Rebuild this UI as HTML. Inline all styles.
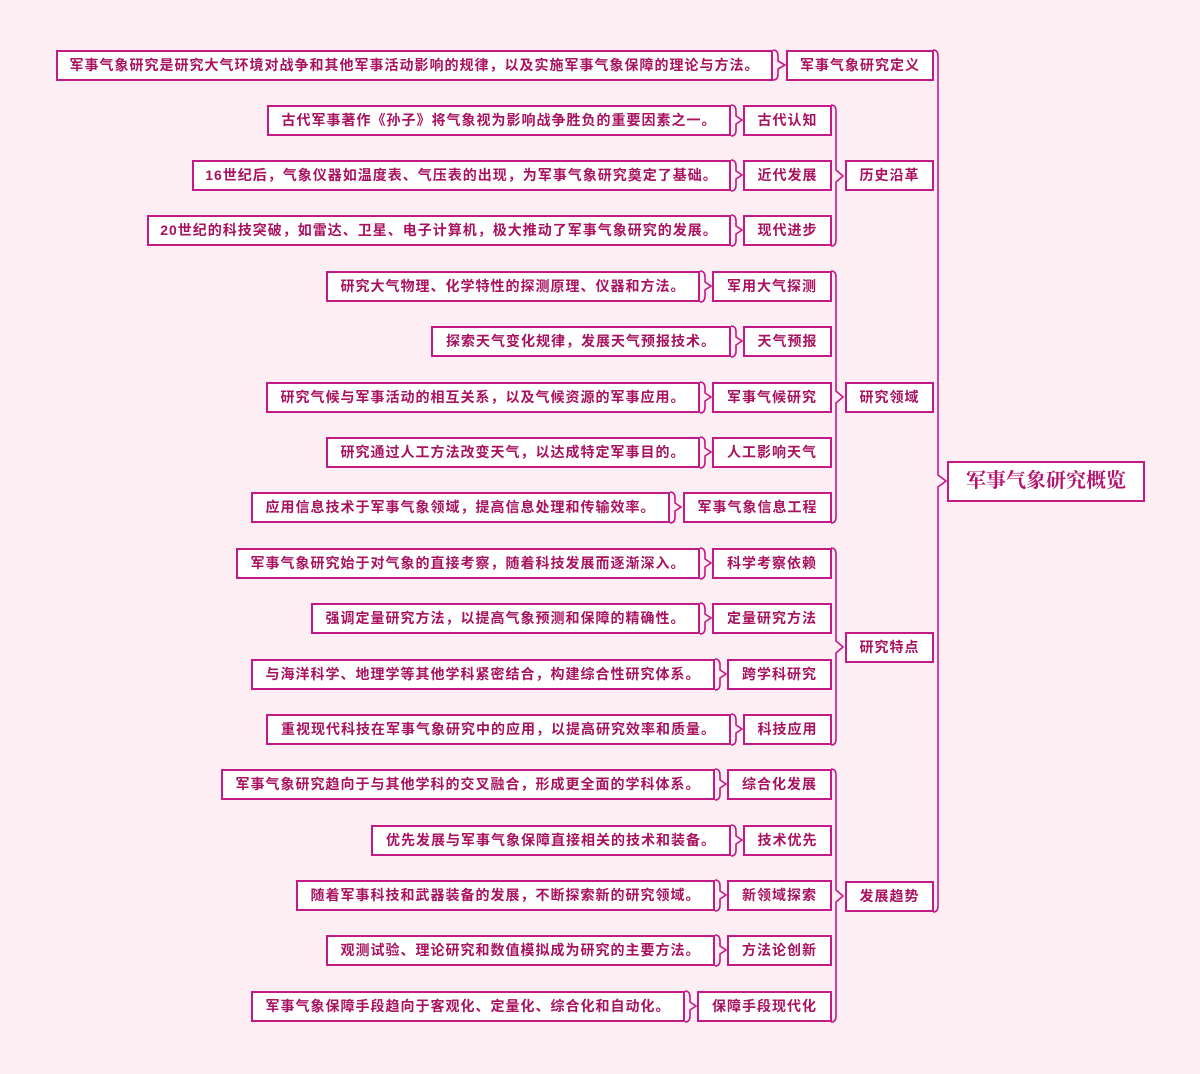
<!DOCTYPE html>
<html><head><meta charset="utf-8"><style>
body{margin:0;width:1200px;height:1074px;background:#fdeef4;position:relative;overflow:hidden;font-family:"Liberation Sans","Noto Sans CJK SC",sans-serif;}
.b{position:absolute;box-sizing:border-box;height:31px;background:#fff;border:2px solid #c21a86;color:#a8125f;font-size:14px;font-weight:bold;letter-spacing:1px;line-height:27px;text-align:center;white-space:nowrap;}
.r{position:absolute;left:947px;top:461px;width:198px;height:41px;box-sizing:border-box;background:#fff;border:2px solid #c21a86;color:#b3136b;font-family:"Liberation Serif","Noto Serif CJK SC",serif;font-size:20px;font-weight:bold;line-height:37px;text-align:center;}
svg{position:absolute;left:0;top:0}
</style></head><body>
<svg width="1200" height="1074" fill="none" stroke="#c21a86" stroke-width="1.6">
<path d="M933 50 Q938 50 938 56 L938 475 L946 481 L938 487 L938 906 Q938 912 933 912"/>
<path d="M831 105 Q836 105 836 111 L836 170 L843 176 L836 182 L836 240 Q836 246 831 246"/>
<path d="M831 271 Q836 271 836 277 L836 391 L843 397 L836 403 L836 517 Q836 523 831 523"/>
<path d="M831 548 Q836 548 836 554 L836 641 L843 647 L836 653 L836 739 Q836 745 831 745"/>
<path d="M831 769 Q836 769 836 775 L836 890 L843 896 L836 902 L836 1016 Q836 1022 831 1022"/>
<path d="M773 50 Q778 50 778 56 L778 61 L785 65 L778 69 L778 74 Q778 80 773 80"/>
<path d="M731 105 Q736 105 736 111 L736 116 L742 120 L736 124 L736 130 Q736 136 731 136"/>
<path d="M731 160 Q736 160 736 166 L736 171 L742 175 L736 179 L736 185 Q736 191 731 191"/>
<path d="M731 215 Q736 215 736 221 L736 226 L742 230 L736 234 L736 240 Q736 246 731 246"/>
<path d="M700 271 Q705 271 705 277 L705 282 L711 286 L705 290 L705 296 Q705 302 700 302"/>
<path d="M731 326 Q736 326 736 332 L736 337 L742 341 L736 345 L736 351 Q736 357 731 357"/>
<path d="M700 382 Q705 382 705 388 L705 393 L711 397 L705 401 L705 407 Q705 413 700 413"/>
<path d="M700 437 Q705 437 705 443 L705 448 L711 452 L705 456 L705 462 Q705 468 700 468"/>
<path d="M670 492 Q675 492 675 498 L675 503 L681 507 L675 511 L675 517 Q675 523 670 523"/>
<path d="M700 548 Q705 548 705 554 L705 559 L711 563 L705 567 L705 573 Q705 579 700 579"/>
<path d="M700 603 Q705 603 705 609 L705 614 L711 618 L705 622 L705 628 Q705 634 700 634"/>
<path d="M715 659 Q720 659 720 665 L720 670 L726 674 L720 678 L720 684 Q720 690 715 690"/>
<path d="M731 714 Q736 714 736 720 L736 725 L742 729 L736 733 L736 739 Q736 745 731 745"/>
<path d="M715 769 Q720 769 720 775 L720 780 L726 784 L720 788 L720 794 Q720 800 715 800"/>
<path d="M731 825 Q736 825 736 831 L736 836 L742 840 L736 844 L736 850 Q736 856 731 856"/>
<path d="M715 880 Q720 880 720 886 L720 891 L726 895 L720 899 L720 905 Q720 911 715 911"/>
<path d="M715 935 Q720 935 720 941 L720 946 L726 950 L720 954 L720 960 Q720 966 715 966"/>
<path d="M685 991 Q690 991 690 997 L690 1002 L696 1006 L690 1010 L690 1016 Q690 1022 685 1022"/>
</svg>
<div class="r">军事气象研究概览</div>
<div class="b" style="left:786px;top:50px;width:148px">军事气象研究定义</div>
<div class="b" style="left:845px;top:160px;width:89px">历史沿革</div>
<div class="b" style="left:845px;top:382px;width:89px">研究领域</div>
<div class="b" style="left:845px;top:632px;width:89px">研究特点</div>
<div class="b" style="left:845px;top:881px;width:89px">发展趋势</div>

<div class="b" style="left:56px;top:50px;width:717px">军事气象研究是研究大气环境对战争和其他军事活动影响的规律，以及实施军事气象保障的理论与方法。</div>

<div class="b" style="left:267px;top:105px;width:464px">古代军事著作《孙子》将气象视为影响战争胜负的重要因素之一。</div>
<div class="b" style="left:743px;top:105px;width:89px">古代认知</div>
<div class="b" style="left:192px;top:160px;width:539px">16世纪后，气象仪器如温度表、气压表的出现，为军事气象研究奠定了基础。</div>
<div class="b" style="left:743px;top:160px;width:89px">近代发展</div>
<div class="b" style="left:147px;top:215px;width:584px">20世纪的科技突破，如雷达、卫星、电子计算机，极大推动了军事气象研究的发展。</div>
<div class="b" style="left:743px;top:215px;width:89px">现代进步</div>

<div class="b" style="left:326px;top:271px;width:374px">研究大气物理、化学特性的探测原理、仪器和方法。</div>
<div class="b" style="left:712px;top:271px;width:120px">军用大气探测</div>
<div class="b" style="left:431px;top:326px;width:300px">探索天气变化规律，发展天气预报技术。</div>
<div class="b" style="left:743px;top:326px;width:89px">天气预报</div>
<div class="b" style="left:266px;top:382px;width:434px">研究气候与军事活动的相互关系，以及气候资源的军事应用。</div>
<div class="b" style="left:712px;top:382px;width:120px">军事气候研究</div>
<div class="b" style="left:326px;top:437px;width:374px">研究通过人工方法改变天气，以达成特定军事目的。</div>
<div class="b" style="left:712px;top:437px;width:120px">人工影响天气</div>
<div class="b" style="left:251px;top:492px;width:419px">应用信息技术于军事气象领域，提高信息处理和传输效率。</div>
<div class="b" style="left:683px;top:492px;width:149px">军事气象信息工程</div>

<div class="b" style="left:236px;top:548px;width:464px">军事气象研究始于对气象的直接考察，随着科技发展而逐渐深入。</div>
<div class="b" style="left:712px;top:548px;width:120px">科学考察依赖</div>
<div class="b" style="left:311px;top:603px;width:389px">强调定量研究方法，以提高气象预测和保障的精确性。</div>
<div class="b" style="left:712px;top:603px;width:120px">定量研究方法</div>
<div class="b" style="left:251px;top:659px;width:464px">与海洋科学、地理学等其他学科紧密结合，构建综合性研究体系。</div>
<div class="b" style="left:727px;top:659px;width:105px">跨学科研究</div>
<div class="b" style="left:266px;top:714px;width:465px">重视现代科技在军事气象研究中的应用，以提高研究效率和质量。</div>
<div class="b" style="left:743px;top:714px;width:89px">科技应用</div>

<div class="b" style="left:221px;top:769px;width:494px">军事气象研究趋向于与其他学科的交叉融合，形成更全面的学科体系。</div>
<div class="b" style="left:727px;top:769px;width:105px">综合化发展</div>
<div class="b" style="left:371px;top:825px;width:360px">优先发展与军事气象保障直接相关的技术和装备。</div>
<div class="b" style="left:743px;top:825px;width:89px">技术优先</div>
<div class="b" style="left:296px;top:880px;width:419px">随着军事科技和武器装备的发展，不断探索新的研究领域。</div>
<div class="b" style="left:727px;top:880px;width:105px">新领域探索</div>
<div class="b" style="left:326px;top:935px;width:389px">观测试验、理论研究和数值模拟成为研究的主要方法。</div>
<div class="b" style="left:727px;top:935px;width:105px">方法论创新</div>
<div class="b" style="left:251px;top:991px;width:434px">军事气象保障手段趋向于客观化、定量化、综合化和自动化。</div>
<div class="b" style="left:697px;top:991px;width:135px">保障手段现代化</div>
</body></html>
